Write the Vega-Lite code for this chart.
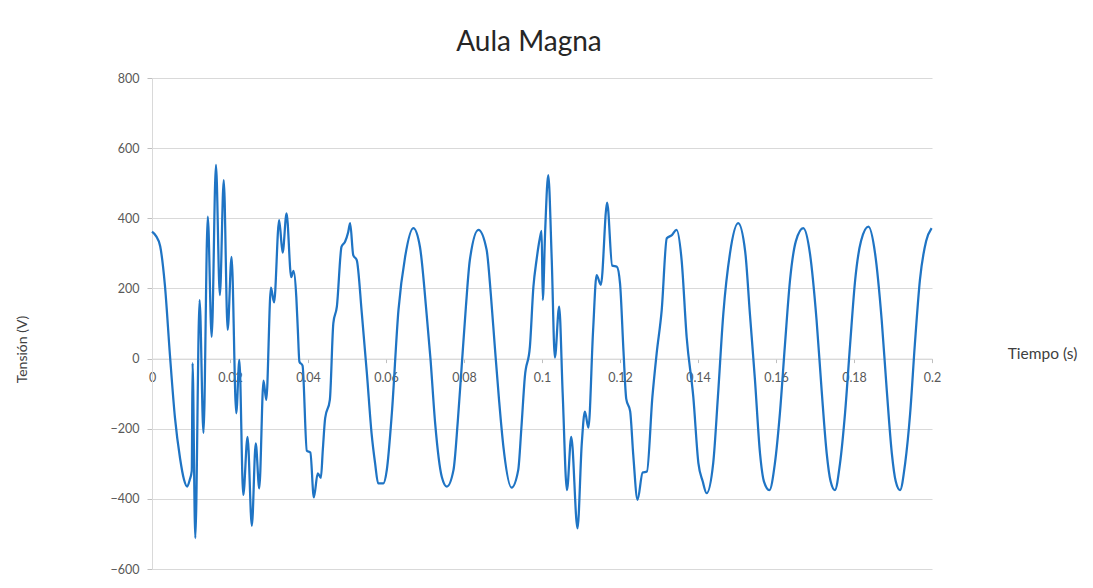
{
  "$schema": "https://vega.github.io/schema/vega-lite/v6.json",
  "width": 780,
  "height": 491,
  "autosize": {"type": "none"},
  "padding": {"left": 152, "top": 78, "right": 161, "bottom": 19},
  "background": "white",
  "config": {"view": {"stroke": null}, "font": "Lato"},
  "title": {"text": "Aula Magna", "fontSize": 28, "font": "Lato", "fontWeight": "normal", "color": "#262626", "anchor": "middle", "dx": -13, "offset": 15},
  "data": {"values": [
    {"t": 0.0000, "v": 362}, {"t": 0.0010, "v": 350}, {"t": 0.0021, "v": 320}, {"t": 0.0033, "v": 210},
    {"t": 0.0046, "v": 10}, {"t": 0.0059, "v": -170}, {"t": 0.0072, "v": -285}, {"t": 0.0082, "v": -345},
    {"t": 0.0090, "v": -365}, {"t": 0.0097, "v": -345}, {"t": 0.0102, "v": -320}, {"t": 0.0104, "v": -13},
    {"t": 0.0111, "v": -512}, {"t": 0.0122, "v": 167}, {"t": 0.0132, "v": -212}, {"t": 0.0143, "v": 405},
    {"t": 0.0153, "v": 62}, {"t": 0.0164, "v": 552}, {"t": 0.0174, "v": 181}, {"t": 0.0184, "v": 509},
    {"t": 0.0194, "v": 82}, {"t": 0.0204, "v": 290}, {"t": 0.0216, "v": -156}, {"t": 0.0224, "v": -4},
    {"t": 0.0234, "v": -389}, {"t": 0.0245, "v": -223}, {"t": 0.0256, "v": -477}, {"t": 0.0266, "v": -242},
    {"t": 0.0275, "v": -370}, {"t": 0.0286, "v": -63}, {"t": 0.0293, "v": -118}, {"t": 0.0305, "v": 202},
    {"t": 0.0313, "v": 160}, {"t": 0.0326, "v": 395}, {"t": 0.0335, "v": 302}, {"t": 0.0345, "v": 414},
    {"t": 0.0357, "v": 232}, {"t": 0.0363, "v": 250}, {"t": 0.0370, "v": 176}, {"t": 0.0374, "v": 80},
    {"t": 0.0378, "v": -9}, {"t": 0.0386, "v": -20}, {"t": 0.0397, "v": -263}, {"t": 0.0406, "v": -268},
    {"t": 0.0415, "v": -396}, {"t": 0.0425, "v": -327}, {"t": 0.0433, "v": -340}, {"t": 0.0438, "v": -260},
    {"t": 0.0444, "v": -170}, {"t": 0.0456, "v": -118}, {"t": 0.0465, "v": 101}, {"t": 0.0474, "v": 148},
    {"t": 0.0486, "v": 319}, {"t": 0.0495, "v": 333}, {"t": 0.0503, "v": 360}, {"t": 0.0508, "v": 386},
    {"t": 0.0516, "v": 295}, {"t": 0.0525, "v": 281}, {"t": 0.0538, "v": 129}, {"t": 0.0551, "v": -42},
    {"t": 0.0563, "v": -213}, {"t": 0.0572, "v": -298}, {"t": 0.0580, "v": -356}, {"t": 0.0593, "v": -356},
    {"t": 0.0602, "v": -318}, {"t": 0.0615, "v": -156}, {"t": 0.0632, "v": 139}, {"t": 0.0649, "v": 290},
    {"t": 0.0670, "v": 372}, {"t": 0.0687, "v": 319}, {"t": 0.0704, "v": 129}, {"t": 0.0714, "v": 0},
    {"t": 0.0726, "v": -184}, {"t": 0.0743, "v": -337}, {"t": 0.0756, "v": -365}, {"t": 0.0773, "v": -318},
    {"t": 0.0784, "v": -180}, {"t": 0.0794, "v": -23}, {"t": 0.0805, "v": 150}, {"t": 0.0815, "v": 281},
    {"t": 0.0837, "v": 367}, {"t": 0.0858, "v": 310}, {"t": 0.0869, "v": 180}, {"t": 0.0879, "v": 34},
    {"t": 0.0890, "v": -120}, {"t": 0.0901, "v": -251}, {"t": 0.0922, "v": -368}, {"t": 0.0939, "v": -318},
    {"t": 0.0947, "v": -200}, {"t": 0.0956, "v": -52}, {"t": 0.0969, "v": 34}, {"t": 0.0978, "v": 205},
    {"t": 0.0986, "v": 281}, {"t": 0.0994, "v": 340}, {"t": 0.0999, "v": 364}, {"t": 0.1002, "v": 167},
    {"t": 0.1008, "v": 360}, {"t": 0.1016, "v": 523}, {"t": 0.1025, "v": 281}, {"t": 0.1033, "v": 3},
    {"t": 0.1044, "v": 148}, {"t": 0.1053, "v": -99}, {"t": 0.1064, "v": -375}, {"t": 0.1075, "v": -223},
    {"t": 0.1091, "v": -484}, {"t": 0.1102, "v": -242}, {"t": 0.1110, "v": -151}, {"t": 0.1119, "v": -197},
    {"t": 0.1131, "v": 80}, {"t": 0.1140, "v": 238}, {"t": 0.1151, "v": 210}, {"t": 0.1167, "v": 445},
    {"t": 0.1180, "v": 265}, {"t": 0.1192, "v": 262}, {"t": 0.1200, "v": 215}, {"t": 0.1209, "v": 20},
    {"t": 0.1216, "v": -115}, {"t": 0.1226, "v": -150}, {"t": 0.1234, "v": -275}, {"t": 0.1245, "v": -403},
    {"t": 0.1258, "v": -325}, {"t": 0.1269, "v": -322}, {"t": 0.1283, "v": -110}, {"t": 0.1294, "v": 15},
    {"t": 0.1307, "v": 139}, {"t": 0.1320, "v": 343}, {"t": 0.1333, "v": 352}, {"t": 0.1345, "v": 367},
    {"t": 0.1358, "v": 281}, {"t": 0.1371, "v": 60}, {"t": 0.1388, "v": -110}, {"t": 0.1401, "v": -298},
    {"t": 0.1412, "v": -350}, {"t": 0.1422, "v": -384}, {"t": 0.1439, "v": -298}, {"t": 0.1451, "v": -110},
    {"t": 0.1465, "v": 129}, {"t": 0.1482, "v": 300}, {"t": 0.1503, "v": 386}, {"t": 0.1521, "v": 305},
    {"t": 0.1533, "v": 129}, {"t": 0.1546, "v": -60}, {"t": 0.1559, "v": -270}, {"t": 0.1569, "v": -350},
    {"t": 0.1583, "v": -375}, {"t": 0.1597, "v": -300}, {"t": 0.1610, "v": -156}, {"t": 0.1623, "v": 40},
    {"t": 0.1636, "v": 224}, {"t": 0.1651, "v": 335}, {"t": 0.1670, "v": 372}, {"t": 0.1687, "v": 300},
    {"t": 0.1704, "v": 110}, {"t": 0.1717, "v": -90}, {"t": 0.1730, "v": -270}, {"t": 0.1740, "v": -350},
    {"t": 0.1751, "v": -375}, {"t": 0.1764, "v": -300}, {"t": 0.1777, "v": -156}, {"t": 0.1790, "v": 40},
    {"t": 0.1803, "v": 224}, {"t": 0.1818, "v": 335}, {"t": 0.1837, "v": 376}, {"t": 0.1854, "v": 300},
    {"t": 0.1871, "v": 110}, {"t": 0.1884, "v": -90}, {"t": 0.1897, "v": -270}, {"t": 0.1907, "v": -350},
    {"t": 0.1918, "v": -375}, {"t": 0.1931, "v": -300}, {"t": 0.1944, "v": -156}, {"t": 0.1956, "v": 40},
    {"t": 0.1969, "v": 224}, {"t": 0.1985, "v": 335}, {"t": 0.1999, "v": 372}
  ]},
  "mark": {"type": "line", "interpolate": "monotone", "color": "#1F74C4", "strokeWidth": 2.25, "clip": false},
  "encoding": {
    "x": {
      "field": "t", "type": "quantitative",
      "scale": {"domain": [0, 0.2], "nice": false, "zero": false},
      "axis": {
        "title": "Tiempo (s)", "values": [0, 0.02, 0.04, 0.06, 0.08, 0.1, 0.12, 0.14, 0.16, 0.18, 0.2],
        "format": "~g", "offset": -210.4, "grid": false,
        "domainColor": "#d9d9d9", "tickColor": "#bfbfbf", "tickSize": 4,
        "labelFont": "Lato", "labelFontSize": 12.5, "labelColor": "#595959", "labelPadding": 9,
        "labelFlush": false, "labelOverlap": false,
        "titleFont": "Lato", "titleFontSize": 15.5, "titleFontWeight": "normal", "titleColor": "#404040",
        "titleX": 890, "titleY": -5, "titleAlign": "center", "titleBaseline": "middle"
      }
    },
    "y": {
      "field": "v", "type": "quantitative",
      "scale": {"domain": [-600, 800], "nice": false},
      "axis": {
        "title": "Tensión (V)", "values": [-600, -400, -200, 0, 200, 400, 600, 800],
        "grid": true, "gridColor": "#d9d9d9", "gridWidth": 1,
        "domainColor": "#d9d9d9", "tickColor": "#bfbfbf", "tickSize": 5,
        "labelFont": "Lato", "labelFontSize": 12.5, "labelColor": "#595959", "labelPadding": 8,
        "titleFont": "Lato", "titleFontSize": 14, "titleFontWeight": "normal", "titleColor": "#404040",
        "titleX": -130, "titleY": 271, "titleAngle": -90, "titleAlign": "center", "titleBaseline": "middle"
      }
    }
  }
}
